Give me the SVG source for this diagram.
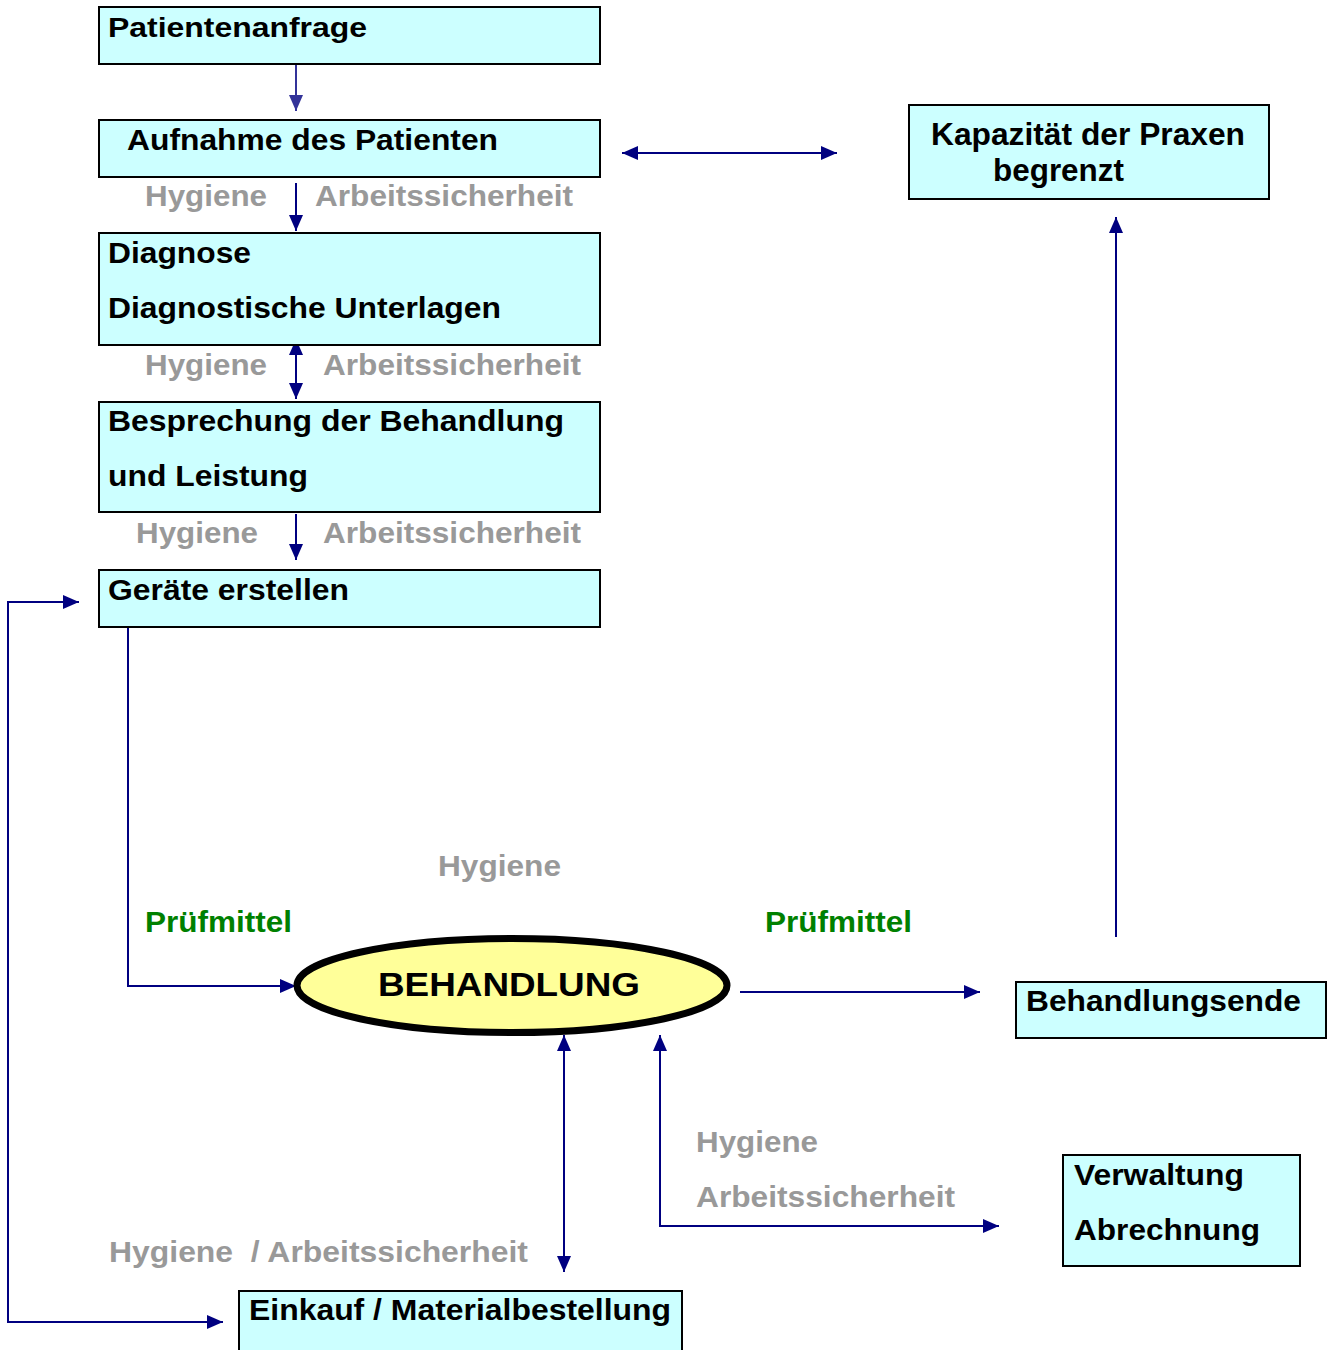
<svg xmlns="http://www.w3.org/2000/svg" width="1329" height="1350" viewBox="0 0 1329 1350">
<defs>
<style>
.box{fill:#CCFFFF;stroke:#000;stroke-width:2}
.t{font-family:"Liberation Sans",Arial,sans-serif;font-weight:bold;fill:#000}
.g{font-family:"Liberation Sans",Arial,sans-serif;font-weight:bold;fill:#999999;font-size:29px}
.gr{font-family:"Liberation Sans",Arial,sans-serif;font-weight:bold;fill:#008000;font-size:29px}
.c{fill:none;stroke:#000080;stroke-width:2}
</style>
<marker id="ah" markerUnits="userSpaceOnUse" markerWidth="18" markerHeight="16" refX="16" refY="7" orient="auto-start-reverse">
<path d="M0,0 L16,7 L0,14 z" fill="#000080"/>
</marker>
<marker id="ah2" markerUnits="userSpaceOnUse" markerWidth="18" markerHeight="16" refX="16" refY="7" orient="auto-start-reverse">
<path d="M0,0 L16,7 L0,14 z" fill="#333399"/>
</marker>
</defs>
<rect width="1329" height="1350" fill="#fff"/>

<g id="connectors">
<path d="M296,64 L296,111" fill="none" stroke="#333399" stroke-width="2" marker-end="url(#ah2)"/>
<path class="c" d="M296,183 L296,231" marker-end="url(#ah)"/>
<path class="c" d="M296,339 L296,399" marker-start="url(#ah)" marker-end="url(#ah)"/>
<path class="c" d="M296,514 L296,560" marker-end="url(#ah)"/>
<path class="c" d="M622,153 L837,153" marker-start="url(#ah)" marker-end="url(#ah)"/>
<path class="c" d="M1116,937 L1116,217" marker-end="url(#ah)"/>
<path class="c" d="M223,1322 L8,1322 L8,602 L79,602" marker-start="url(#ah)" marker-end="url(#ah)"/>
<path class="c" d="M128,626 L128,986 L296,986" marker-end="url(#ah)"/>
<path class="c" d="M740,992 L980,992" marker-end="url(#ah)"/>
<path class="c" d="M564,1035 L564,1272" marker-start="url(#ah)" marker-end="url(#ah)"/>
<path class="c" d="M660,1035 L660,1226 L999,1226" marker-start="url(#ah)" marker-end="url(#ah)"/>
</g>

<g id="labels">
<text class="g" x="145" y="206" textLength="122" lengthAdjust="spacingAndGlyphs">Hygiene</text>
<text class="g" x="315" y="206" textLength="258" lengthAdjust="spacingAndGlyphs">Arbeitssicherheit</text>
<text class="g" x="145" y="375" textLength="122" lengthAdjust="spacingAndGlyphs">Hygiene</text>
<text class="g" x="323" y="375" textLength="258" lengthAdjust="spacingAndGlyphs">Arbeitssicherheit</text>
<text class="g" x="136" y="543" textLength="122" lengthAdjust="spacingAndGlyphs">Hygiene</text>
<text class="g" x="323" y="543" textLength="258" lengthAdjust="spacingAndGlyphs">Arbeitssicherheit</text>
<text class="g" x="438" y="876" textLength="123" lengthAdjust="spacingAndGlyphs">Hygiene</text>
<text class="gr" x="145" y="932" textLength="147" lengthAdjust="spacingAndGlyphs">Prüfmittel</text>
<text class="gr" x="765" y="932" textLength="147" lengthAdjust="spacingAndGlyphs">Prüfmittel</text>
<text class="g" x="696" y="1152" textLength="122" lengthAdjust="spacingAndGlyphs">Hygiene</text>
<text class="g" x="696" y="1207" textLength="259" lengthAdjust="spacingAndGlyphs">Arbeitssicherheit</text>
<text class="g" x="109" y="1262" textLength="419" lengthAdjust="spacingAndGlyphs" style="white-space:pre">Hygiene  / Arbeitssicherheit</text>
</g>

<g id="patientenanfrage">
<rect class="box" x="99" y="7" width="501" height="57"/>
<text class="t" x="108" y="37" font-size="27" textLength="259" lengthAdjust="spacingAndGlyphs">Patientenanfrage</text>
</g>
<g id="aufnahme">
<rect class="box" x="99" y="120" width="501" height="57"/>
<text class="t" x="127" y="150" font-size="29" textLength="371" lengthAdjust="spacingAndGlyphs">Aufnahme des Patienten</text>
</g>
<g id="diagnose">
<rect class="box" x="99" y="233" width="501" height="112"/>
<text class="t" x="108" y="263" font-size="29" textLength="143" lengthAdjust="spacingAndGlyphs">Diagnose</text>
<text class="t" x="108" y="318" font-size="29" textLength="393" lengthAdjust="spacingAndGlyphs">Diagnostische Unterlagen</text>
</g>
<g id="besprechung">
<rect class="box" x="99" y="402" width="501" height="110"/>
<text class="t" x="108" y="431" font-size="29" textLength="456" lengthAdjust="spacingAndGlyphs">Besprechung der Behandlung</text>
<text class="t" x="108" y="486" font-size="29" textLength="200" lengthAdjust="spacingAndGlyphs">und Leistung</text>
</g>
<g id="geraete">
<rect class="box" x="99" y="570" width="501" height="57"/>
<text class="t" x="108" y="600" font-size="29" textLength="241" lengthAdjust="spacingAndGlyphs">Geräte erstellen</text>
</g>
<g id="kapazitaet">
<rect class="box" x="909" y="105" width="360" height="94"/>
<text class="t" x="931" y="145" font-size="31" textLength="314" lengthAdjust="spacingAndGlyphs">Kapazität der Praxen</text>
<text class="t" x="993" y="181" font-size="31" textLength="131" lengthAdjust="spacingAndGlyphs">begrenzt</text>
</g>
<g id="behandlung">
<ellipse cx="512" cy="985.5" rx="215" ry="47" fill="#FFFF99" stroke="#000" stroke-width="7"/>
<text class="t" x="378" y="996" font-size="34" textLength="262" lengthAdjust="spacingAndGlyphs">BEHANDLUNG</text>
</g>
<g id="behandlungsende">
<rect class="box" x="1016" y="982" width="310" height="56"/>
<text class="t" x="1026" y="1011" font-size="29" textLength="275" lengthAdjust="spacingAndGlyphs">Behandlungsende</text>
</g>
<g id="verwaltung">
<rect class="box" x="1063" y="1155" width="237" height="111"/>
<text class="t" x="1074" y="1185" font-size="29" textLength="170" lengthAdjust="spacingAndGlyphs">Verwaltung</text>
<text class="t" x="1074" y="1240" font-size="29" textLength="186" lengthAdjust="spacingAndGlyphs">Abrechnung</text>
</g>
<g id="einkauf">
<rect class="box" x="239" y="1291" width="443" height="62"/>
<text class="t" x="249" y="1320" font-size="29" textLength="422" lengthAdjust="spacingAndGlyphs">Einkauf / Materialbestellung</text>
</g>
</svg>
